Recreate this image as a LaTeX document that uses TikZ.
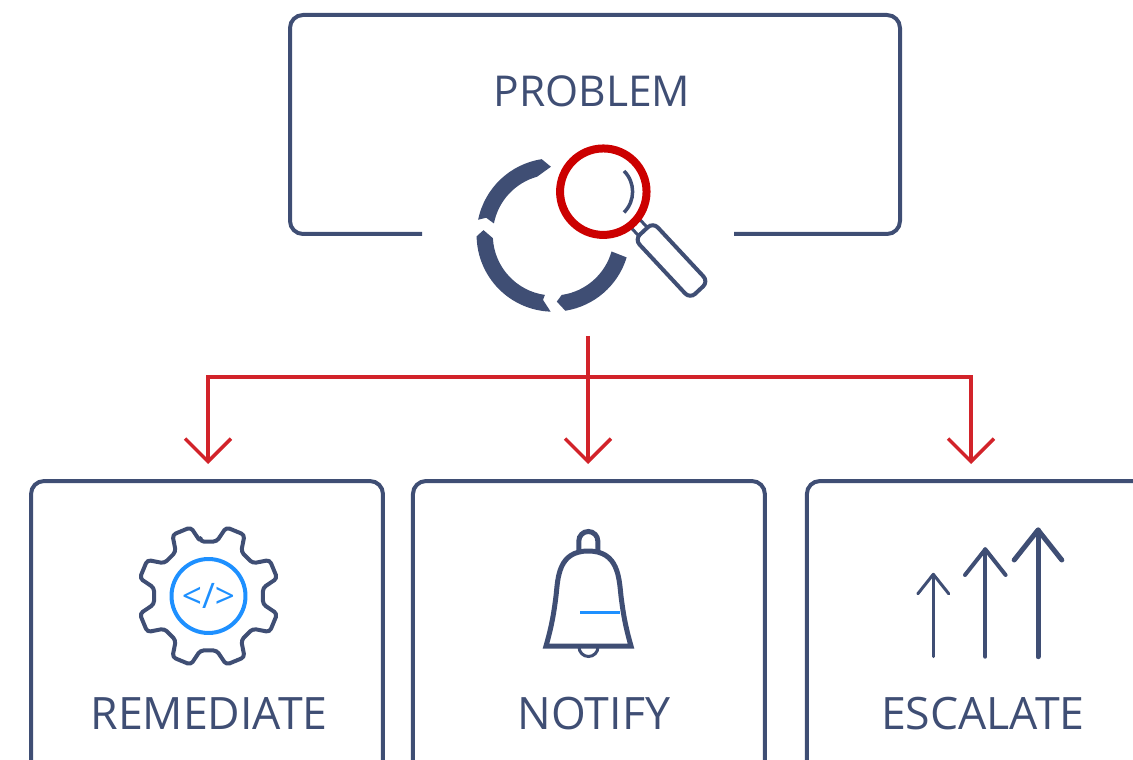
\documentclass[tikz,border=0pt]{standalone}
\usepackage{xcolor}
\usepackage{fontspec}
\setmainfont{Open Sans}
\usetikzlibrary{arrows.meta}
\usetikzlibrary{positioning}
\definecolor{navyLine}{HTML}{3F4E74}
\definecolor{redArrow}{HTML}{D2232A}
\definecolor{redLens}{HTML}{CC0000}
\definecolor{blueCode}{HTML}{1E90FF}
\tikzset{box-line/.style={draw=navyLine, line width=0.08cm}}
\tikzset{task-box/.style={box-line, inner sep=0, minimum width=7.04cm, minimum height=6.4cm, rounded corners=0.26cm}}
\tikzset{box-label/.style={text=navyLine, inner sep=0, font=\fontsize{25.4pt}{30pt}\selectfont}}
\tikzset{red-arrow/.style={draw=redArrow, line width=0.07cm, -{Straight Barb[length=0.46cm, width=0.92cm]}}}
\tikzset{red-line/.style={draw=redArrow, line width=0.07cm}}
% one arrow of the escalate icon: x, tip y, barb half width, barb drop, width
\newcommand{\uparrowicon}[5] {
    \draw[navyLine, line width=#5, line cap=round, line join=round]
        (#1, -656.7) -- (#1, -#2);
    \draw[navyLine, line width=#5, line cap=round, line join=round]
        (#1 - #3, -#2 - #4) -- (#1, -#2) -- (#1 + #3, -#2 - #4);
}
\begin{document}
\begin{tikzpicture}[x=0.02cm, y=0.02cm]
    \useasboundingbox (0,0) rectangle (1133,-760);
    \clip (0,0) rectangle (1133,-760);

    % problem box, open at the bottom
    \draw[box-line, rounded corners=0.26cm] (422,-234) -- (290,-234) -- (290,-15) -- (900,-15) -- (900,-234) -- (734,-234);
    \coordinate (problemtop) at (595,-15);
    \node[box-label, font=\fontsize{24.2pt}{29pt}\selectfont, below=1.2cm of problemtop, xshift=-0.06cm] (problem) {PROBLEM};

    % ring
    \begin{scope}[shift={(553.3,-235)}]
        \fill[navyLine] (98.7:76.7) arc[start angle=98.7, end angle=168.5, radius=76.7] -- (165.6:69.3) -- (169:60.5)
            arc[start angle=169, end angle=105.5, radius=60.5] -- (92:68.3) -- cycle;
        \fill[navyLine] (181:76.7) arc[start angle=181, end angle=268, radius=76.7] -- (261:65.7) -- (262:60.5)
            arc[start angle=262, end angle=183, radius=60.5] -- (176:70) -- cycle;
        \fill[navyLine] (-81:76.7) arc[start angle=-81, end angle=-17, radius=76.7] -- (-15.8:60.5)
            arc[start angle=-15.8, end angle=-82, radius=60.5] -- (-87:66.7) -- cycle;
    \end{scope}

    % magnifier
    \node[draw=navyLine, line width=0.06cm, rotate=-47, minimum width=0.34cm, minimum height=0.24cm, inner sep=0] (neck) at (639.3,-227.7) {};
    \node[draw=navyLine, fill=white, line width=0.08cm, rotate=-47, minimum width=1.62cm, minimum height=0.5cm, inner sep=0, rounded corners=0.14cm] (handle) at (671.5,-260.5) {};
    \node[circle, draw=redLens, line width=0.16cm, minimum size=1.73cm, inner sep=0] (lens) at (603.3,-191.7) {};
    \draw[navyLine, line width=0.07cm] (603.3,-191.7) ++(45:29.3) arc[start angle=45, end angle=-45, radius=29.3];

    % lower boxes
    \node[task-box] (remediate) at (207,-641) {};
    \node[task-box, right=0.52cm of remediate] (notify) {};
    \node[task-box, right=0.76cm of notify] (escalate) {};
    \node[box-label, below=4.36cm of remediate.north, xshift=0.04cm] (remediatelabel) {REMEDIATE};
    \node[box-label, below=4.36cm of notify.north, xshift=0.1cm] (notifylabel) {NOTIFY};
    \node[box-label, below=4.36cm of escalate.north] (escalatelabel) {ESCALATE};

    % connectors
    \coordinate (trunk) at (588,-336);
    \coordinate (hub) at (588,-377);
    \coordinate (tipremediate) at (208,-464);
    \coordinate (tipnotify) at (588,-464);
    \coordinate (tipescalate) at (971,-464);
    \draw[red-line] (trunk) -- (hub);
    \draw[red-arrow] (hub) -| (tipremediate);
    \draw[red-arrow] (hub) -- (tipnotify);
    \draw[red-arrow] (hub) -| (tipescalate);

    % gear
    \draw[navyLine, line width=0.08cm, rounded corners=0.07cm, line join=round]
        (98.5:55) ++(208.5,-596)
        \foreach \a in {112.5,157.5,...,450} {
            -- ([shift={(208.5,-596)}]\a-14:55) -- ([shift={(208.5,-596)}]\a-8:71) -- ([shift={(208.5,-596)}]\a+8:71) -- ([shift={(208.5,-596)}]\a+14:55)
        } -- cycle;
    \node[circle, draw=blueCode, line width=0.08cm, minimum size=1.48cm, inner sep=0] (codering) at (208.5,-596) {};
    \node[text=blueCode, inner sep=0, font=\fontsize{20pt}{24pt}\selectfont] (code) at (208.5,-596) {</>};

    % bell
    \draw[navyLine, line width=0.06cm] (579,-647) arc[start angle=180, end angle=360, radius=9.5];
    \draw[navyLine, line width=0.1cm] (578.8,-551) -- (578.8,-541) arc[start angle=180, end angle=0, radius=9.5] -- (597.8,-551);
    \draw[navyLine, fill=white, line width=0.1cm, line join=miter]
        (546,-646) .. controls (552,-625) and (554,-612) .. (556,-596)
        .. controls (558,-578) and (558,-551) .. (588.3,-551)
        .. controls (618.5,-551) and (619,-578) .. (621,-596)
        .. controls (623,-612) and (625,-625) .. (631,-646) -- cycle;
    \draw[blueCode, line width=0.06cm] (580,-612.7) -- (620,-612.7);

    % escalate arrows
    \uparrowicon{933.3}{574.3}{15.5}{19.5}{0.06cm}
    \uparrowicon{985.3}{549.3}{20.3}{25.7}{0.08cm}
    \uparrowicon{1038}{530}{23.8}{30}{0.1cm}
\end{tikzpicture}
\end{document}
